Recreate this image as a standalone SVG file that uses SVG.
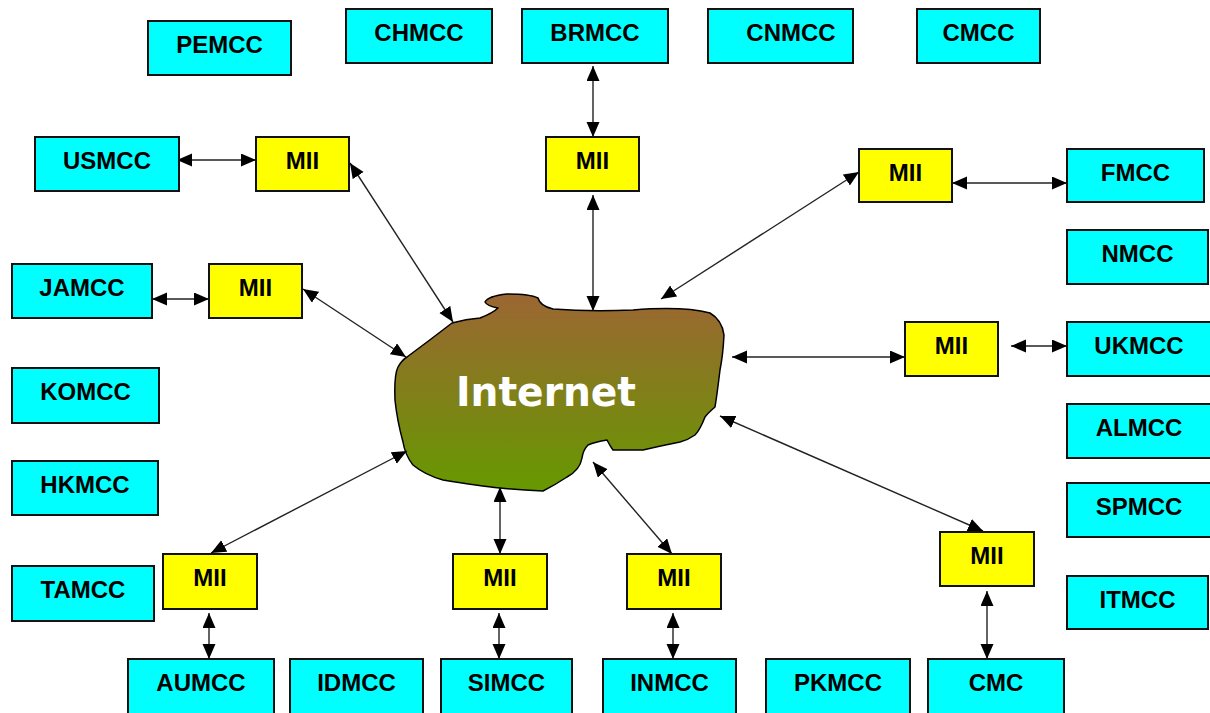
<svg xmlns="http://www.w3.org/2000/svg" width="1210" height="713" viewBox="0 0 1210 713">
<style>
.mcc{fill:#00ffff;stroke:#111;stroke-width:2}
.mii{fill:#ffff00;stroke:#111;stroke-width:2}
.t{font-family:"Liberation Sans",Arial,sans-serif;font-weight:bold;font-size:24px;fill:#000;text-anchor:middle}
.c{stroke:#222;stroke-width:1.4;fill:none;marker-start:url(#ah);marker-end:url(#ah)}
</style>
<defs>
<marker id="ah" markerUnits="userSpaceOnUse" markerWidth="16" markerHeight="14" refX="15" refY="6.5" orient="auto-start-reverse">
<path d="M0,0 L15,6.5 L0,13 z" fill="#000"/>
</marker>
<linearGradient id="cg" x1="0" y1="0" x2="0" y2="1">
<stop offset="0" stop-color="#9c6633"/>
<stop offset="1" stop-color="#669900"/>
</linearGradient>
</defs>
<rect width="1210" height="713" fill="#fff"/>

<g id="internet">
<path d="M407,357 Q430,340 452,323 Q466,319 480,318 Q493,313 498,308 Q487,306 485,302 Q488,296 507,294 Q530,294 538,298 Q540,306 553,309 Q590,312 633,310 Q683,306 710,313 Q722,320 724,335 Q723,355 720,370 Q717,395 715,407 Q708,413 705,417 Q700,430 695,435 Q688,440 680,442 Q660,446 643,450 L613,450 Q610,446 607,440 Q595,442 588,445 Q583,450 582,458 Q580,470 567,477 Q555,485 543,491 Q520,490 500,488 Q480,486 443,480 Q425,475 413,465 Q405,455 403,442 Q397,420 395,400 Q394,375 398,367 Q402,360 407,357 Z" fill="url(#cg)" stroke="#000" stroke-width="1.5" stroke-linejoin="round"/>
<text x="546" y="406" font-family="DejaVu Sans,Verdana,sans-serif" font-weight="bold" font-size="40" fill="#fff" text-anchor="middle" textLength="180" lengthAdjust="spacingAndGlyphs">Internet</text>
</g>

<g id="connectors">
<line class="c" x1="177" y1="160" x2="256" y2="160"/>
<line class="c" x1="350" y1="163" x2="453" y2="322"/>
<line class="c" x1="152" y1="299" x2="209" y2="299"/>
<line class="c" x1="303" y1="289" x2="406" y2="357"/>
<line class="c" x1="593" y1="66" x2="593" y2="137"/>
<line class="c" x1="593" y1="195" x2="593" y2="311"/>
<line class="c" x1="859" y1="172" x2="661" y2="299"/>
<line class="c" x1="952" y1="183" x2="1067" y2="183"/>
<line class="c" x1="732" y1="357" x2="905" y2="357"/>
<line class="c" x1="1011" y1="346" x2="1067" y2="346"/>
<line class="c" x1="720" y1="416" x2="983" y2="531"/>
<line class="c" x1="987" y1="591" x2="987" y2="659"/>
<line class="c" x1="407" y1="451" x2="211" y2="553"/>
<line class="c" x1="209" y1="613" x2="209" y2="659"/>
<line class="c" x1="500" y1="487" x2="500" y2="554"/>
<line class="c" x1="499" y1="613" x2="499" y2="659"/>
<line class="c" x1="593" y1="462" x2="672" y2="554"/>
<line class="c" x1="673" y1="613" x2="673" y2="659"/>
</g>

<g id="PEMCC"><rect class="mcc" x="148" y="21" width="143" height="54"/><text class="t" x="219.5" y="53">PEMCC</text></g>
<g id="CHMCC"><rect class="mcc" x="346" y="9" width="146" height="54"/><text class="t" x="419" y="41">CHMCC</text></g>
<g id="BRMCC"><rect class="mcc" x="522" y="9" width="146" height="54"/><text class="t" x="595" y="41">BRMCC</text></g>
<g id="CNMCC"><rect class="mcc" x="708" y="9" width="145" height="54"/><text class="t" x="791" y="41">CNMCC</text></g>
<g id="CMCC"><rect class="mcc" x="917" y="9" width="123" height="54"/><text class="t" x="978.5" y="41">CMCC</text></g>

<g id="USMCC"><rect class="mcc" x="35" y="137" width="144" height="54"/><text class="t" x="107" y="169">USMCC</text></g>
<g id="MII_US"><rect class="mii" x="256" y="137" width="93" height="54"/><text class="t" x="302.5" y="169">MII</text></g>
<g id="MII_BR"><rect class="mii" x="546" y="137" width="93" height="54"/><text class="t" x="592.5" y="169">MII</text></g>
<g id="MII_FM"><rect class="mii" x="859" y="149" width="93" height="53"/><text class="t" x="905.5" y="181">MII</text></g>
<g id="FMCC"><rect class="mcc" x="1067" y="149" width="137" height="53"/><text class="t" x="1135.5" y="181">FMCC</text></g>

<g id="JAMCC"><rect class="mcc" x="12" y="264" width="140" height="54"/><text class="t" x="82" y="296">JAMCC</text></g>
<g id="MII_JA"><rect class="mii" x="209" y="264" width="93" height="54"/><text class="t" x="255.5" y="296">MII</text></g>
<g id="NMCC"><rect class="mcc" x="1067" y="230" width="141" height="54"/><text class="t" x="1137.5" y="262">NMCC</text></g>

<g id="MII_UK"><rect class="mii" x="905" y="322" width="93" height="54"/><text class="t" x="951.5" y="354">MII</text></g>
<g id="UKMCC"><rect class="mcc" x="1067" y="322" width="145" height="54"/><text class="t" x="1139" y="354">UKMCC</text></g>

<g id="KOMCC"><rect class="mcc" x="12" y="368" width="147" height="55"/><text class="t" x="85.5" y="400">KOMCC</text></g>
<g id="ALMCC"><rect class="mcc" x="1067" y="404" width="145" height="54"/><text class="t" x="1139" y="436">ALMCC</text></g>
<g id="HKMCC"><rect class="mcc" x="12" y="461" width="146" height="54"/><text class="t" x="85" y="493">HKMCC</text></g>
<g id="SPMCC"><rect class="mcc" x="1067" y="483" width="145" height="54"/><text class="t" x="1139" y="515">SPMCC</text></g>

<g id="MII_CMC"><rect class="mii" x="940" y="532" width="94" height="54"/><text class="t" x="987" y="564">MII</text></g>
<g id="MII_AU"><rect class="mii" x="163" y="554" width="94" height="55"/><text class="t" x="210" y="586">MII</text></g>
<g id="MII_SI"><rect class="mii" x="453" y="554" width="94" height="55"/><text class="t" x="500" y="586">MII</text></g>
<g id="MII_IN"><rect class="mii" x="627" y="554" width="94" height="55"/><text class="t" x="674" y="586">MII</text></g>
<g id="TAMCC"><rect class="mcc" x="12" y="566" width="142" height="55"/><text class="t" x="83" y="598">TAMCC</text></g>
<g id="ITMCC"><rect class="mcc" x="1067" y="576" width="141" height="53"/><text class="t" x="1137.5" y="608">ITMCC</text></g>

<g id="AUMCC"><rect class="mcc" x="128" y="659" width="146" height="56"/><text class="t" x="201" y="691">AUMCC</text></g>
<g id="IDMCC"><rect class="mcc" x="290" y="659" width="133" height="56"/><text class="t" x="356.5" y="691">IDMCC</text></g>
<g id="SIMCC"><rect class="mcc" x="441" y="659" width="131" height="56"/><text class="t" x="506.5" y="691">SIMCC</text></g>
<g id="INMCC"><rect class="mcc" x="603" y="659" width="133" height="56"/><text class="t" x="669.5" y="691">INMCC</text></g>
<g id="PKMCC"><rect class="mcc" x="766" y="659" width="144" height="56"/><text class="t" x="838" y="691">PKMCC</text></g>
<g id="CMC"><rect class="mcc" x="928" y="659" width="136" height="56"/><text class="t" x="996" y="691">CMC</text></g>
</svg>
